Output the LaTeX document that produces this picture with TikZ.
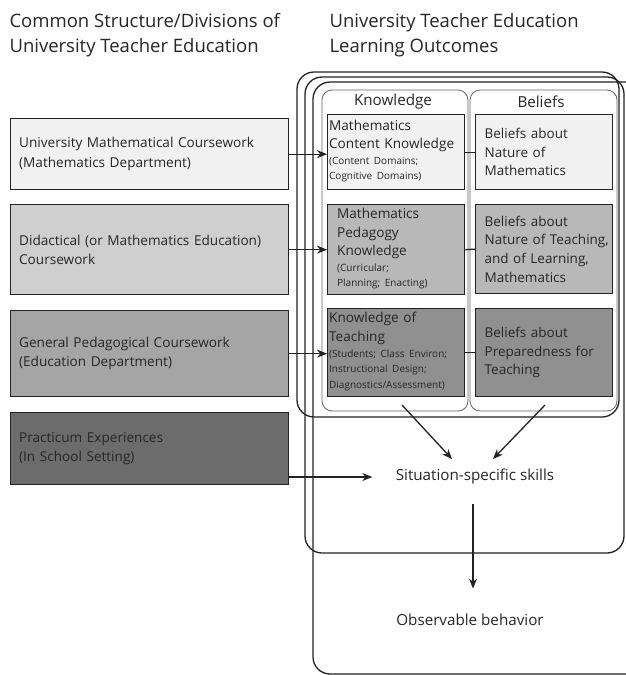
\documentclass[tikz,border=0pt]{standalone}
\usepackage{fontspec}
\setmainfont{Open Sans}
\usetikzlibrary{arrows.meta,calc}
\definecolor{txt}{HTML}{262626}
\definecolor{lineC}{HTML}{222222}
\definecolor{fA}{HTML}{F1F1F1}
\definecolor{fB}{HTML}{CFCFCF}
\definecolor{fBk}{HTML}{B8B8B8}
\definecolor{fC}{HTML}{A5A5A5}
\definecolor{fCk}{HTML}{909090}
\definecolor{fD}{HTML}{6C6C6C}
\newcommand{\smalllines}[1]{{\fontsize{10}{15.5}\selectfont\begin{tabular}[t]{@{}l@{}}#1\end{tabular}}}
\begin{document}
\begin{tikzpicture}[x=1pt,y=-1pt,
  every node/.style={text=txt},
  lbox/.style={draw=lineC, line width=1.3pt, anchor=north west, minimum width=278pt,
    text width=261pt, inner xsep=8.5pt, align=left, font=\fontsize{13.6}{19.5}\selectfont},
  kbox/.style={draw=lineC, line width=1.3pt, anchor=north west, minimum width=137pt,
    text width=134pt, inner xsep=1.5pt, align=left, font=\fontsize{13.6}{18.8}\selectfont},
  bbox/.style={draw=lineC, line width=1.3pt, anchor=north west, minimum width=137pt,
    text width=131pt, inner xsep=3pt, align=left, font=\fontsize{13.5}{18.6}\selectfont},
  frame/.style={draw=lineC, line width=1.3pt, rounded corners=17pt},
  panel/.style={draw=lineC!70, line width=0.8pt, rounded corners=10pt},
  title/.style={anchor=north west, align=left, font=\fontsize{18.5}{25}\selectfont},
  lbl/.style={font=\fontsize{15.2}{17}\selectfont},
  arr/.style={draw=lineC, line width=1.3pt, -{Stealth[length=10pt,width=8pt]}},
  plain/.style={draw=lineC, line width=1.3pt}
]
\useasboundingbox (0,0) rectangle (625,675);

% titles
\node[title] (t1) at (6,10) {Common Structure/Divisions of\\University Teacher Education};
\node[title] (t2) at (326,10) {University Teacher Education\\Learning Outcomes};

% frames
\draw[frame] (313,82) rectangle (645,674);
\draw[frame] (305,77) rectangle (624,553);
\draw[frame] (297,72) rectangle (619,417);

% panels
\draw[panel] (322,90) rectangle (468,411);
\draw[panel] (470,90) rectangle (617,411);
\node[lbl] (kh) at (393,102) {Knowledge};
\node[lbl] (bh) at (541,102) {Beliefs};

% left boxes
\node[lbox, fill=fA, minimum height=71pt] (l1) at (10,118)
  {University Mathematical Coursework\\(Mathematics Department)};
\node[lbox, fill=fB, minimum height=90pt] (l2) at (10,204)
  {Didactical (or Mathematics Education)\\Coursework};
\node[lbox, fill=fC, minimum height=86pt] (l3) at (10,310)
  {General Pedagogical Coursework\\(Education Department)};
\node[lbox, fill=fD, minimum height=72pt] (l4) at (10,412)
  {Practicum Experiences\\(In School Setting)};

% knowledge boxes
\node[kbox, fill=fA, minimum height=75pt] (k1) at (327,114)
  {Mathematics\\Content Knowledge\\[-3.5pt]\smalllines{(Content Domains;\\Cognitive Domains)}};
\node[kbox, fill=fBk, minimum height=89pt, text width=126pt, inner xsep=5.5pt] (k2) at (327,204)
  {\hspace*{4pt}Mathematics\\\hspace*{4pt}Pedagogy\\\hspace*{4pt}Knowledge\\[-3.5pt]\hspace*{4pt}\smalllines{(Curricular;\\Planning; Enacting)}};
\node[kbox, fill=fCk, minimum height=88pt] (k3) at (327,308)
  {Knowledge of\\Teaching\\[-3.5pt]\smalllines{(Students; Class Environ;\\Instructional Design;\\Diagnostics/Assessment)}};

% belief boxes
\node[bbox, fill=fA, minimum height=75pt] (b1) at (475,114)
  {\hspace*{6pt}Beliefs about\\\hspace*{6pt}Nature of\\\hspace*{6pt}Mathematics};
\node[bbox, fill=fBk, minimum height=89pt] (b2) at (475,204)
  {\hspace*{6pt}Beliefs about\\\hspace*{6pt}Nature of Teaching,\\\hspace*{6pt}and of Learning,\\\hspace*{6pt}Mathematics};
\node[bbox, fill=fCk, minimum height=88pt] (b3) at (475,308)
  {\hspace*{6pt}Beliefs about\\\hspace*{6pt}Preparedness for\\\hspace*{6pt}Teaching};

% links knowledge-beliefs
\draw[plain] (k1.east) -- (b1.west);
\draw[plain] (k2.east) -- (b2.west);
\draw[plain] (k3.east) -- (b3.west);

% outcomes
\node[lbl] (sit) at (475,477) {Situation-specific skills};
\node[lbl] (obs) at (470,620) {Observable behavior};

% arrows from left
\draw[arr] (l1.east) -- (l1.east -| k1.west);
\draw[arr] (l2.east) -- (l2.east -| k2.west);
\draw[arr] (l3.east) -- (l3.east -| k3.west);
\draw[arr] (l4.east |- sit.west) -- ($(sit.west)+(-20,0)$);

% converging arrows
\coordinate (ka) at (402,405);
\coordinate (ba) at (545,405);
\coordinate (kt) at (452,459);
\coordinate (bt) at (493,459);
\draw[arr] (ka) -- (kt);
\draw[arr] (ba) -- (bt);
\draw[arr] ($(sit.south)+(-2,16)$) -- ($(obs.north)+(3,-22)$);
\end{tikzpicture}
\end{document}
